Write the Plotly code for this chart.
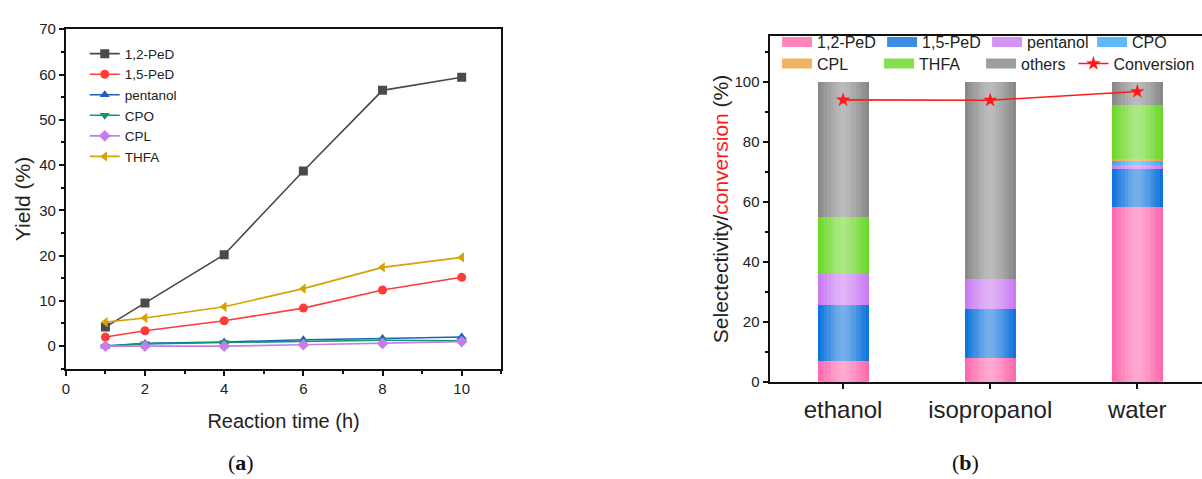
import plotly.graph_objects as go

# ---------------- data: panel (a) ----------------
time_h = [1, 2, 4, 6, 8, 10]
y_12PeD = [4.2, 9.5, 20.2, 38.7, 56.5, 59.4]
y_15PeD = [2.0, 3.4, 5.6, 8.4, 12.4, 15.2]
y_pentanol = [0.0, 0.6, 0.9, 1.4, 1.7, 2.0]
y_CPO = [0.0, 0.5, 0.8, 1.1, 1.3, 1.2]
y_CPL = [0.0, 0.0, 0.0, 0.3, 0.6, 1.0]
y_THFA = [5.3, 6.2, 8.7, 12.7, 17.4, 19.6]

# ---------------- data: panel (b) ----------------
solvents = ["ethanol", "isopropanol", "water"]
s_12PeD = [6.8, 7.9, 58.3]
s_15PeD = [18.8, 16.3, 12.6]
s_pentanol = [10.4, 10.0, 1.5]
s_CPO = [0.0, 0.0, 1.5]
s_CPL = [0.0, 0.0, 0.4]
s_THFA = [19.1, 0.0, 18.1]
s_others = [44.9, 65.8, 7.6]
conversion = [94.0, 93.9, 96.8]

FONT = "Liberation Sans, Arial, sans-serif"
fig = go.Figure()


def lighten(hex_col, f):
    h = hex_col.lstrip("#")
    r, g, b = (int(h[i:i + 2], 16) for i in (0, 2, 4))
    r, g, b = (round(c + (255 - c) * f) for c in (r, g, b))
    return f"#{r:02x}{g:02x}{b:02x}"


line_series = [
    ("1,2-PeD", y_12PeD, "#4a4a4a", "square"),
    ("1,5-PeD", y_15PeD, "#ff3b3b", "circle"),
    ("pentanol", y_pentanol, "#1f5fc4", "triangle-up"),
    ("CPO", y_CPO, "#10996a", "triangle-down"),
    ("CPL", y_CPL, "#c47ee8", "diamond"),
    ("THFA", y_THFA, "#d6a200", "triangle-left"),
]
for name, ys, col, sym in line_series:
    fig.add_trace(go.Scatter(
        x=time_h, y=ys, name=name, mode="lines+markers",
        line=dict(color=col, width=1.6),
        marker=dict(symbol=sym, size=9, color=col),
        xaxis="x", yaxis="y", legend="legend",
    ))

bar_series = [
    ("1,2-PeD", s_12PeD, "#ff6aae"),
    ("1,5-PeD", s_15PeD, "#0f74dc"),
    ("pentanol", s_pentanol, "#c97cf2"),
    ("CPO", s_CPO, "#3ea8f6"),
    ("CPL", s_CPL, "#eba43c"),
    ("THFA", s_THFA, "#6cd82a"),
    ("others", s_others, "#898989"),
]
# shading layers (width, lightening factor) to mimic the cylindrical gradient
layers = [(0.346, 0.0), (0.305, 0.07), (0.26, 0.14), (0.215, 0.21),
          (0.17, 0.28), (0.125, 0.34), (0.08, 0.39), (0.04, 0.42)]
layer_axes = ["x2"] + [f"x{i}" for i in range(3, 3 + len(layers) - 1)]
for (width, f), ax in zip(layers, layer_axes):
    for name, vals, col in bar_series:
        fig.add_trace(go.Bar(
            x=solvents, y=vals, name=name,
            marker=dict(color=lighten(col, f), line=dict(width=0)),
            width=width, xaxis=ax, yaxis="y2", showlegend=False,
        ))

for i, (name, vals, col) in enumerate(bar_series):
    fig.add_trace(go.Scatter(
        x=[None], y=[None], name=name, mode="lines",
        line=dict(color=lighten(col, 0.18), width=10),
        xaxis="x2", yaxis="y2", legend="legend2" if i < 4 else "legend3",
    ))

fig.add_trace(go.Scatter(
    x=solvents, y=conversion, name="Conversion", mode="lines+markers",
    line=dict(color="#ff1a1a", width=1.6),
    marker=dict(symbol="star", size=11, color="#ff1a1a"),
    xaxis=layer_axes[-1], yaxis="y2", legend="legend4",
))

axis_common = dict(showline=True, linecolor="#111", linewidth=2, ticks="outside",
                   tickcolor="#111", tickwidth=2, ticklen=5, showgrid=False, zeroline=False,
                   tickfont=dict(family=FONT, size=15, color="#222"))

overlay_x = dict(domain=[0.639, 1.0], range=[-0.5, 2.44], type="category", anchor="y2",
                 overlaying="x2", visible=False, showgrid=False, zeroline=False)

leg_font = dict(family=FONT, size=16, color="#222")

layout = dict(
    width=1202, height=479,
    margin=dict(l=0, r=0, t=0, b=0),
    paper_bgcolor="white", plot_bgcolor="white",
    font=dict(family=FONT, color="#222"),
    barmode="stack",
    xaxis=dict(domain=[0.0516, 0.4151], range=[0, 11], dtick=2, tick0=0, mirror=True,
               minor=dict(dtick=1, ticklen=3, tickwidth=1.5, tickcolor="#111", ticks="outside"),
               title=dict(text="Reaction time (h)", font=dict(family=FONT, size=20), standoff=18),
               **axis_common),
    yaxis=dict(domain=[0.2213, 0.9562], range=[-5, 70], dtick=10, tick0=0, mirror=True,
               minor=dict(dtick=5, ticklen=3, tickwidth=1.5, tickcolor="#111", ticks="outside"),
               title=dict(text="Yield (%)", font=dict(family=FONT, size=21), standoff=3),
               **axis_common),
    xaxis2=dict(domain=[0.639, 1.0], range=[-0.5, 2.44], type="category", mirror=True,
                anchor="y2",
                **{k: v for k, v in axis_common.items() if k != "tickfont"},
                tickfont=dict(family=FONT, size=24, color="#222")),
    yaxis2=dict(domain=[0.193, 0.9415], range=[0, 115.3], anchor="x2",
                tickmode="array", tickvals=[0, 20, 40, 60, 80, 100],
                minor=dict(tickvals=[10, 30, 50, 70, 90, 110], ticklen=3, tickwidth=1.5,
                           tickcolor="#111", ticks="outside"),
                title=dict(text="Selectectivity/<span style='color:#ff1a1a'>conversion</span> (%)",
                           font=dict(family=FONT, size=21), standoff=0),
                **axis_common),
    legend=dict(x=0.0674, y=0.7914, xanchor="left", yanchor="middle", traceorder="normal",
                bgcolor="rgba(0,0,0,0)", font=dict(family=FONT, size=13.5, color="#222"),
                itemwidth=30, tracegroupgap=0),
    legend2=dict(x=0.6453, y=0.9284, xanchor="left", yanchor="middle", orientation="h",
                 traceorder="normal", bgcolor="rgba(0,0,0,0)", font=leg_font,
                 itemwidth=30, entrywidth=60),
    legend3=dict(x=0.6453, y=0.8818, xanchor="left", yanchor="middle", orientation="h",
                 traceorder="normal", bgcolor="rgba(0,0,0,0)", font=leg_font,
                 itemwidth=30, entrywidth=57),
    legend4=dict(x=1073 / 1202, y=0.8818, xanchor="left", yanchor="middle", orientation="h",
                 bgcolor="rgba(0,0,0,0)", font=leg_font, itemwidth=30),
    annotations=[
        dict(text="(<b>a</b>)", x=238 / 1202, y=(479 - 470) / 479, xref="paper", yref="paper",
             xanchor="center", yanchor="middle", showarrow=False,
             font=dict(family="Liberation Serif, serif", size=22, color="#111")),
        dict(text="(<b>b</b>)", x=965 / 1202, y=(479 - 470) / 479, xref="paper", yref="paper",
             xanchor="center", yanchor="middle", showarrow=False,
             font=dict(family="Liberation Serif, serif", size=22, color="#111")),
    ],
)
for ax in layer_axes[1:]:
    layout["xaxis" + ax[1:]] = overlay_x
fig.update_layout(**layout)

fig.write_html("out.html")
